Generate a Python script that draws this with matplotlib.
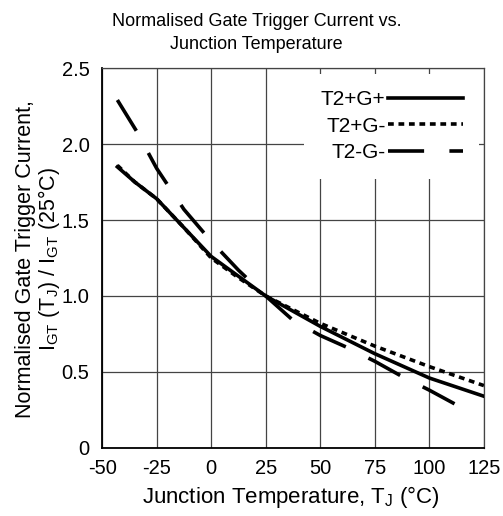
import matplotlib
matplotlib.use("Agg")
import matplotlib.pyplot as plt

plt.rcParams['font.family'] = ['Liberation Sans', 'DejaVu Sans']
plt.rcParams['mathtext.fontset'] = 'custom'
plt.rcParams['mathtext.rm'] = 'Liberation Sans'
plt.rcParams['mathtext.it'] = 'Liberation Sans'
plt.rcParams['axes.unicode_minus'] = False

# junction temperature (degC) and normalised IGT for each quadrant
temp_pp = [-43, -35, -25, -12.5, 0, 12.5, 25, 37.5, 50, 75, 100, 125]
igt_pp = [1.85, 1.75, 1.64, 1.45, 1.26, 1.13, 1.0, 0.90, 0.80, 0.62, 0.46, 0.34]

temp_pm = [-43, -35, -25, -12.5, 0, 12.5, 25, 37.5, 50, 75, 100, 125]
igt_pm = [1.86, 1.75, 1.64, 1.45, 1.25, 1.12, 1.0, 0.91, 0.82, 0.67, 0.535, 0.41]

temp_mm = [-43, -34, -25, -12.5, 0, 12.5, 25, 37.5, 50, 62.5, 75, 87.5, 100, 118]
igt_mm = [2.29, 2.08, 1.84, 1.57, 1.36, 1.17, 1.0, 0.84, 0.74, 0.66, 0.57, 0.47, 0.38, 0.24]

xticks = [-50, -25, 0, 25, 50, 75, 100, 125]
yticks = [0, 0.5, 1.0, 1.5, 2.0, 2.5]
ytick_labels = ['0', '0.5', '1.0', '1.5', '2.0', '2.5']

fig = plt.figure(figsize=(5.03, 5.16), dpi=100)
ax = fig.add_axes([0.203, 0.132, 0.759, 0.736])

ax.plot(temp_pp, igt_pp, color='black', lw=2.6, label='T2+G+', zorder=3)
ax.plot(temp_pm, igt_pm, color='black', lw=2.6, dashes=(1.6, 1.3), label='T2+G-', zorder=3)
ax.plot(temp_mm, igt_mm, color='black', lw=2.6, dashes=(10, 7), label='T2-G-', zorder=3)

ax.set_xlim(-50, 125)
ax.set_ylim(0, 2.5)
ax.set_xticks(xticks)
ax.set_yticks(yticks)
ax.set_yticklabels(ytick_labels)
ax.tick_params(length=0, labelsize=14.5)
ax.tick_params(axis='y', pad=9)
ax.tick_params(axis='x', pad=8)
ax.grid(True, color='#444444', lw=0.9)
ax.set_axisbelow(True)

for side in ['top', 'right']:
    ax.spines[side].set_color('#444444')
    ax.spines[side].set_linewidth(0.9)
for side in ['left', 'bottom']:
    ax.spines[side].set_linewidth(1.3)

leg = ax.legend(loc='upper right', bbox_to_anchor=(0.988, 0.985), borderaxespad=0,
                markerfirst=False, fontsize=15, handlelength=3.6, handletextpad=0.1,
                borderpad=0.8, labelspacing=0.35, frameon=True, fancybox=False,
                facecolor='white', edgecolor='none', framealpha=1)
leg.set_zorder(2)

ax.set_xlabel(r'Junction Temperature, T$_\mathregular{J}$ (°C)', fontsize=16)
ax.xaxis.set_label_coords(0.495, -0.095)
ax.set_ylabel('Normalised Gate Trigger Current,\n'
              r'$\mathregular{I_{GT}}$ ($\mathregular{T_J}$) / $\mathregular{I_{GT}}$ (25°C)',
              fontsize=15.5, linespacing=1.0)
ax.yaxis.set_label_coords(-0.105, 0.497)
fig.suptitle('Normalised Gate Trigger Current vs.\nJunction Temperature',
             x=0.51, y=0.975, fontsize=13, linespacing=1.5)

fig.savefig('out.png', dpi=100)
